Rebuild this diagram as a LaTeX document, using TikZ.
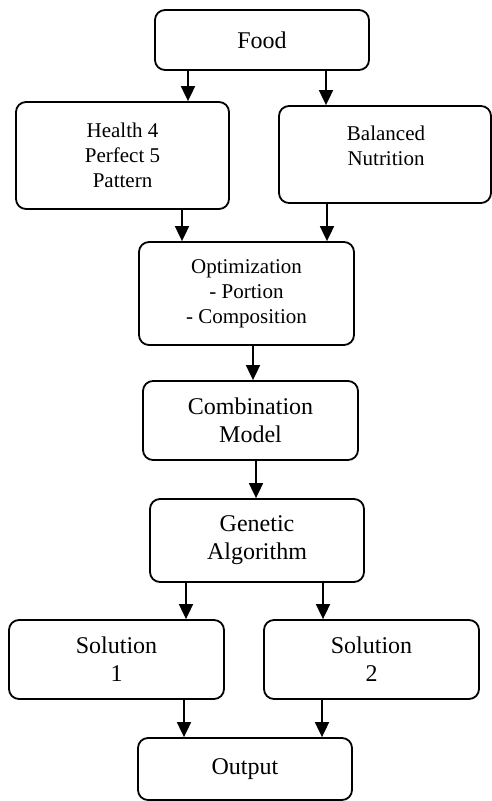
\documentclass[tikz,border=0pt]{standalone}
\usepackage{fontspec}
\setmainfont{Liberation Serif}
\usetikzlibrary{arrows.meta}
\begin{document}
\begin{tikzpicture}[x=1pt,y=-1pt,
  box/.style={draw, line width=1.8pt, rounded corners=10pt, inner sep=0pt, align=center},
  big/.style={font=\fontsize{24}{28}\selectfont},
  small/.style={font=\fontsize{21}{25}\selectfont},
  txt/.style={align=center, inner sep=0pt},
  arr/.style={line width=1.8pt, -{Triangle[width=14pt,length=15pt]}}]
\useasboundingbox (0,0) rectangle (492,801);

% boxes
\node[box, big, minimum width=214pt, minimum height=60pt] (food) at (262,40) {Food};
\node[box, small, minimum width=213pt, minimum height=107pt] (health) at (122.5,155.5) {Health 4\\Perfect 5\\Pattern};
\node[box, minimum width=212pt, minimum height=97pt] (bal) at (385,154.5) {};
\node[txt, small] (baltext) at (386,146) {Balanced\\Nutrition};
\node[box, small, minimum width=215pt, minimum height=103pt] (opt) at (246.5,293.5) {Optimization\\- Portion\\- Composition};
\node[box, big, minimum width=215pt, minimum height=79pt] (comb) at (250.5,420.5) {Combination\\Model};
\node[box, big, minimum width=214pt, minimum height=83pt] (gen) at (257,540.5) {Genetic\\Algorithm};
\node[box, big, minimum width=215pt, minimum height=79pt] (sol1) at (116.5,659.5) {Solution\\1};
\node[box, big, minimum width=215pt, minimum height=79pt] (sol2) at (371.5,659.5) {Solution\\2};
\node[box, big, minimum width=214pt, minimum height=62pt] (out) at (245,769) {Output};

% connectors
\draw[arr] (188,0 |- food.south) -- (188,0 |- health.north);
\draw[arr] (326,0 |- food.south) -- (326,0 |- bal.north);
\draw[arr] (182,0 |- health.south) -- (182,0 |- opt.north);
\draw[arr] (327,0 |- bal.south) -- (327,0 |- opt.north);
\draw[arr] (253,0 |- opt.south) -- (253,0 |- comb.north);
\draw[arr] (256,0 |- comb.south) -- (256,0 |- gen.north);
\draw[arr] (186,0 |- gen.south) -- (186,0 |- sol1.north);
\draw[arr] (323,0 |- gen.south) -- (323,0 |- sol2.north);
\draw[arr] (184,0 |- sol1.south) -- (184,0 |- out.north);
\draw[arr] (322,0 |- sol2.south) -- (322,0 |- out.north);
\end{tikzpicture}
\end{document}
